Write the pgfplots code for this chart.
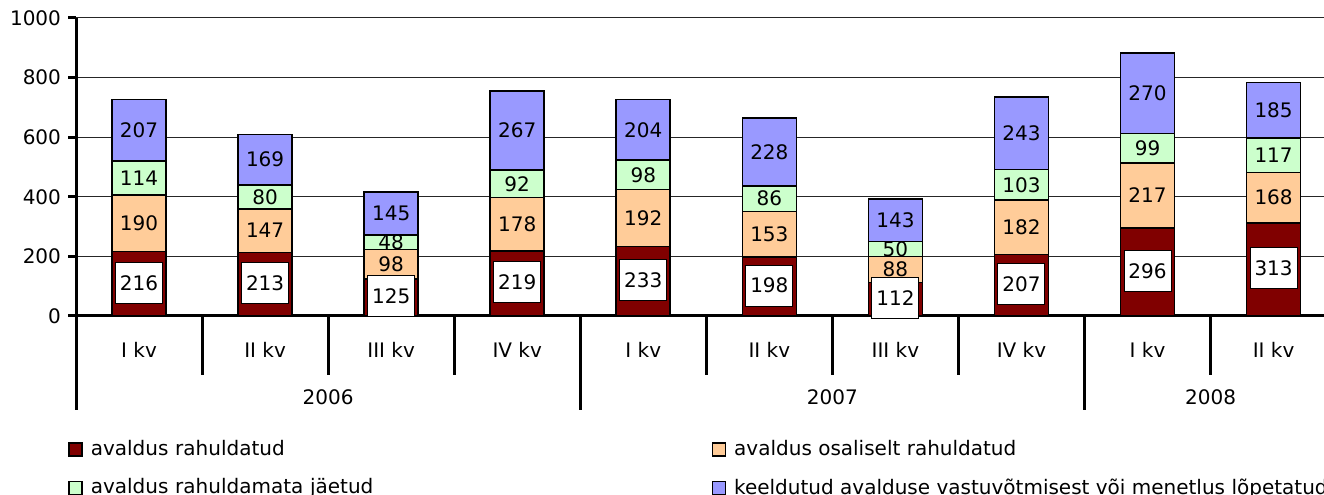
\documentclass[border=0pt]{standalone}
\usepackage{pgfplots}
\pgfplotsset{compat=1.18}
\usepackage{pgfplotstable}
\usepackage{fontspec}
\setmainfont{DejaVu Sans}
\definecolor{cRed}{HTML}{800000}
\definecolor{cOrange}{HTML}{FFCC99}
\definecolor{cGreen}{HTML}{CCFFCC}
\definecolor{cBlue}{HTML}{9999FF}

% quarters: a = rahuldatud, b = osaliselt, c = rahuldamata, d = keeldutud
\pgfplotstableread{
x a b c d
0 216 190 114 207
1 213 147 80 169
2 125 98 48 145
3 219 178 92 267
4 233 192 98 204
5 198 153 86 228
6 112 88 50 143
7 207 182 103 243
8 296 217 99 270
9 313 168 117 185
}\data

\pgfplotsset{
  sq/.style={legend image code/.code={%
    \draw[##1,/tikz/.cd,line width=0.7pt,draw=black] (0pt,-3.25pt) rectangle (6.5pt,3.25pt);}},
}

\begin{document}
\fontsize{10}{12}\selectfont
\begin{tikzpicture}[font=\fontsize{10}{12}\selectfont]
\begin{axis}[
  name=main,
  width=624pt, height=149pt, scale only axis,
  ybar stacked, bar width=27pt,
  xmin=-0.5, xmax=9.4, ymin=0, ymax=1000,
  clip=false,
  axis lines*=left,
  axis line style={line width=1.5pt},
  tick align=outside,
  major tick length=4pt,
  ytick={0,200,...,1000},
  yticklabel={\pgfmathprintnumber{\tick}},
  tick label style={font=\fontsize{10}{12}\selectfont},
  y tick style={line width=1.5pt, black},
  ymajorgrids, grid style={line width=0.5pt, black!85},
  xtick={0,...,9},
  xticklabels={I kv, II kv, III kv, IV kv, I kv, II kv, III kv, IV kv, I kv, II kv},
  x tick style={draw=none},
  xticklabel style={anchor=center, yshift=-13pt},
  /pgf/number format/assume math mode=true,
  /pgf/number format/1000 sep={},
  legend columns=2,
  legend cell align=left,
  legend style={at={(0,0)}, anchor=north west, xshift=-4pt, yshift=-60pt,
    draw=none, fill=none, inner sep=0pt, row sep=6pt,
    font=\fontsize{10}{12}\selectfont,
    /tikz/every odd column/.append style={column sep=2pt},
    /tikz/column 2/.style={text width=308.5pt}},
]
\addplot[fill=cRed, draw=black, line width=0.8pt, sq] table[x=x, y=a] {\data};
\addlegendentry{avaldus rahuldatud}
\addplot[fill=cOrange, draw=black, line width=0.8pt, sq] table[x=x, y=b] {\data};
\addlegendentry{avaldus osaliselt rahuldatud}
\addplot[fill=cGreen, draw=black, line width=0.8pt, sq] table[x=x, y=c] {\data};
\addlegendentry{avaldus rahuldamata jäetud}
\addplot[fill=cBlue, draw=black, line width=0.8pt, sq] table[x=x, y=d] {\data};
\addlegendentry{keeldutud avalduse vastuvõtmisest või menetlus lõpetatud}

% group separators under the axis
\draw[line width=1.5pt] (axis cs:-0.5,0) -- ++(0pt,-47pt);
\draw[line width=1.5pt] (axis cs:3.5,0) -- ++(0pt,-47pt);
\draw[line width=1.5pt] (axis cs:7.5,0) -- ++(0pt,-47pt);
\draw[line width=1.5pt] (axis cs:0.5,0) -- ++(0pt,-29.5pt);
\draw[line width=1.5pt] (axis cs:1.5,0) -- ++(0pt,-29.5pt);
\draw[line width=1.5pt] (axis cs:2.5,0) -- ++(0pt,-29.5pt);
\draw[line width=1.5pt] (axis cs:4.5,0) -- ++(0pt,-29.5pt);
\draw[line width=1.5pt] (axis cs:5.5,0) -- ++(0pt,-29.5pt);
\draw[line width=1.5pt] (axis cs:6.5,0) -- ++(0pt,-29.5pt);
\draw[line width=1.5pt] (axis cs:8.5,0) -- ++(0pt,-29.5pt);
\node at (axis cs:1.5,0) [yshift=-40.5pt] {2006};
\node at (axis cs:5.5,0) [yshift=-40.5pt] {2007};
\node at (axis cs:8.5,0) [yshift=-40.5pt] {2008};

\coordinate (BL) at (rel axis cs:0,0);
\coordinate (TR) at (rel axis cs:1,1);
\end{axis}

% value labels, centred in each segment
\begin{axis}[
  width=624pt, height=149pt, scale only axis,
  xmin=-0.5, xmax=9.4, ymin=0, ymax=1000,
  hide axis, clip=false,
  nodes near coords,
  point meta=explicit symbolic,
  nodes near coords style={anchor=center, text=black, font=\fontsize{10}{12}\selectfont},
]
\addplot[draw=none, nodes near coords style={draw=black, line width=0.5pt, fill=white,
  minimum width=23.5pt, minimum height=20.5pt, inner sep=0pt}]
  table[x=x, y expr=\thisrow{a}/2+3, meta=a] {\data};
\addplot[draw=none] table[x=x, y expr=\thisrow{a}+\thisrow{b}/2, meta=b] {\data};
\addplot[draw=none] table[x=x, y expr=\thisrow{a}+\thisrow{b}+\thisrow{c}/2, meta=c] {\data};
\addplot[draw=none] table[x=x, y expr=\thisrow{a}+\thisrow{b}+\thisrow{c}+\thisrow{d}/2, meta=d] {\data};
\end{axis}

\pgfresetboundingbox
\path ([xshift=-38pt,yshift=-89.5pt]BL) rectangle ([yshift=9pt]TR);
\end{tikzpicture}
\end{document}
